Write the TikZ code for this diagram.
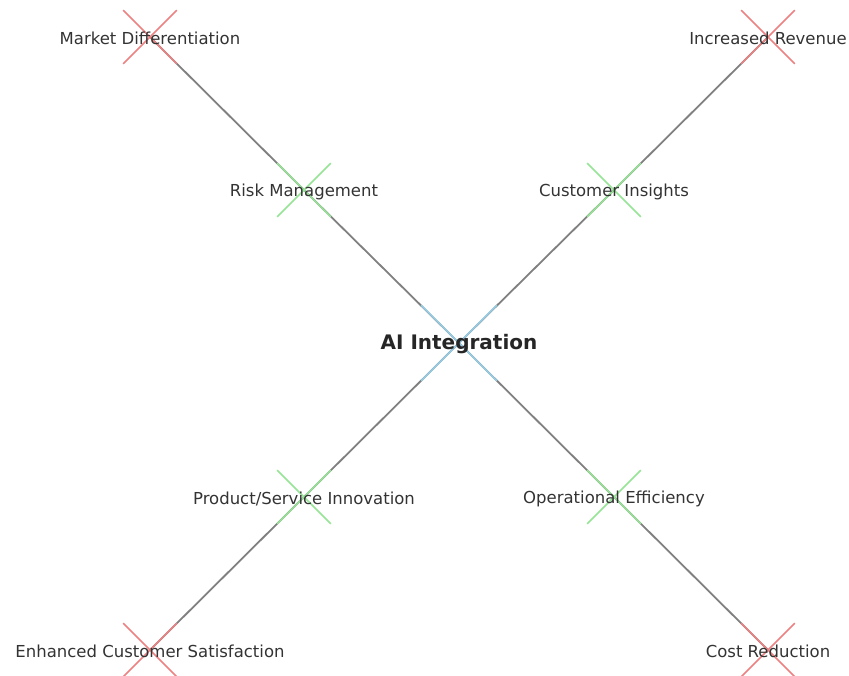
\documentclass[tikz,border=0pt]{standalone}
\usepackage{fontspec}
\setmainfont{DejaVu Sans}
\usetikzlibrary{shapes.misc}
\definecolor{edgegray}{RGB}{128,128,128}
\definecolor{xred}{RGB}{236,130,130}
\definecolor{xgreen}{RGB}{150,228,150}
\definecolor{xblue}{RGB}{150,206,232}

\begin{document}
\begin{tikzpicture}[x=1pt, y=-1pt,
  edge/.style={draw=edgegray, line width=1.8pt},
  xmark/.style={cross out, draw, inner sep=0pt, line width=1.6pt, minimum size=52pt},
  outerx/.style={xmark, draw=xred},
  innerx/.style={xmark, draw=xgreen},
  hubx/.style={xmark, draw=xblue, minimum size=74pt},
  lbl/.style={font=\fontsize{16.5}{18}\selectfont, text=black!80, inner sep=0pt, yshift=-1.5pt},
  hub/.style={font=\fontsize{20}{22}\selectfont\bfseries, text=black!85, inner sep=0pt, yshift=-1.5pt}]
  \useasboundingbox (0,0) rectangle (849,675);
  % positions
  \coordinate (ai) at (459,343);
  \coordinate (risk) at (304,190);
  \coordinate (cust) at (614,190);
  \coordinate (prod) at (304,497);
  \coordinate (ops) at (614,497);
  \coordinate (mkt) at (150,37);
  \coordinate (rev) at (768,37);
  \coordinate (sat) at (150,650);
  \coordinate (cost) at (768,650);
  % edges
  \draw[edge] (ai) -- (risk); \draw[edge] (risk) -- (mkt);
  \draw[edge] (ai) -- (cust); \draw[edge] (cust) -- (rev);
  \draw[edge] (ai) -- (prod); \draw[edge] (prod) -- (sat);
  \draw[edge] (ai) -- (ops); \draw[edge] (ops) -- (cost);
  % markers
  \node[hubx] (ai-x) at (ai) {};
  \node[innerx] (risk-x) at (risk) {};
  \node[innerx] (cust-x) at (cust) {};
  \node[innerx] (prod-x) at (prod) {};
  \node[innerx] (ops-x) at (ops) {};
  \node[outerx] (mkt-x) at (mkt) {};
  \node[outerx] (rev-x) at (rev) {};
  \node[outerx] (sat-x) at (sat) {};
  \node[outerx] (cost-x) at (cost) {};
  % labels
  \node[hub] (ai-l) at (ai) {AI Integration};
  \node[lbl] (risk-l) at (risk) {Risk Management};
  \node[lbl] (cust-l) at (cust) {Customer Insights};
  \node[lbl] (prod-l) at (prod) {Product/Service Innovation};
  \node[lbl] (ops-l) at (ops) {Operational Efficiency};
  \node[lbl] (mkt-l) at (mkt) {Market Differentiation};
  \node[lbl] (rev-l) at (rev) {Increased Revenue};
  \node[lbl] (sat-l) at (sat) {Enhanced Customer Satisfaction};
  \node[lbl] (cost-l) at (cost) {Cost Reduction};
\end{tikzpicture}
\end{document}
